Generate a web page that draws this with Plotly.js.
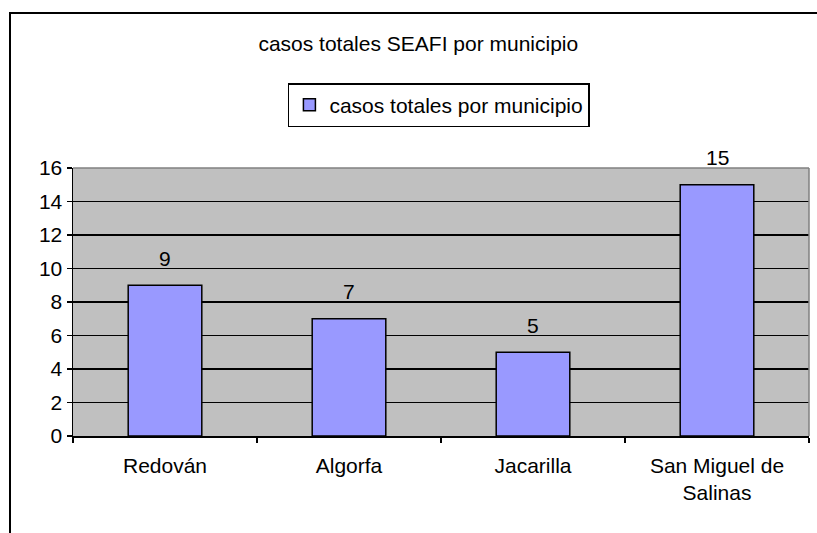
<!DOCTYPE html>
<html>
<head>
<meta charset="utf-8">
<script src="https://cdn.plot.ly/plotly-3.0.1.min.js"></script>
<style>
html,body{margin:0;padding:0;background:#fff;overflow:hidden;}
#frame{position:absolute;left:9px;top:12px;width:900px;height:600px;border:2px solid #000;box-sizing:border-box;}
#chart{position:absolute;left:0;top:0;width:817px;height:533px;}
</style>
</head>
<body>
<div id="frame"></div>
<div id="chart"></div>
<script>
const categories = ["Redován", "Algorfa", "Jacarilla", "San Miguel de Salinas"];
const tickLabels = ["Redován", "Algorfa", "Jacarilla", "San Miguel de<br>Salinas"];
const values = [9, 7, 5, 15];
const seriesName = "casos totales por municipio";
const chartTitle = "casos totales SEAFI por municipio";
const yTicks = [0, 2, 4, 6, 8, 10, 12, 14, 16];

const font = {family: "Liberation Sans, Arial, sans-serif", size: 21, color: "#000"};

const trace = {
  type: "bar",
  x: categories,
  y: values,
  name: seriesName,
  marker: {color: "#9999FF", line: {color: "#000", width: 1.5}},
  showlegend: true,
  hoverinfo: "none"
};

const annotations = categories.map((c, i) => ({
  x: c, y: values[i], xref: "x", yref: "y",
  text: String(values[i]), showarrow: false,
  yanchor: "middle", yshift: 27,
  font: font
}));

const layout = {
  width: 817, height: 533,
  paper_bgcolor: "rgba(0,0,0,0)",
  plot_bgcolor: "#C0C0C0",
  margin: {l: 73, r: 8, t: 168, b: 97, pad: 0},
  font: font,
  title: {text: chartTitle, font: font, x: 0.512, xref: "container", xanchor: "center", y: 0.919, yref: "container", yanchor: "middle"},
  bargap: 0.6,
  showlegend: true,
  legend: {
    x: 0.292, y: 1.317, xanchor: "left", yanchor: "top",
    bgcolor: "#fff", bordercolor: "#000", borderwidth: 1.5,
    font: font, itemwidth: 30
  },
  xaxis: {
    type: "category",
    tickmode: "array", tickvals: categories, ticktext: tickLabels,
    tickson: "boundaries", ticks: "outside", ticklen: 5, tickcolor: "#000", tickwidth: 1.5,
    showline: true, linecolor: "#000", linewidth: 1.5,
    showgrid: false, zeroline: false,
    tickfont: font, ticklabelstandoff: 10
  },
  yaxis: {
    range: [0, 16], tickmode: "array", tickvals: yTicks,
    ticks: "outside", ticklen: 5, tickcolor: "#000", tickwidth: 1.5,
    showline: true, linecolor: "#000", linewidth: 1.5,
    showgrid: true, gridcolor: "#000", gridwidth: 1.5,
    zeroline: false, tickfont: font
  },
  shapes: [
    {type: "line", xref: "paper", yref: "paper", x0: 0, x1: 1, y0: 1, y1: 1, line: {color: "#808080", width: 1.5}},
    {type: "line", xref: "paper", yref: "paper", x0: 1, x1: 1, y0: 0, y1: 1, line: {color: "#808080", width: 1.5}}
  ],
  annotations: annotations
};

Plotly.newPlot("chart", [trace], layout, {staticPlot: true, displayModeBar: false});
</script>
</body>
</html>
